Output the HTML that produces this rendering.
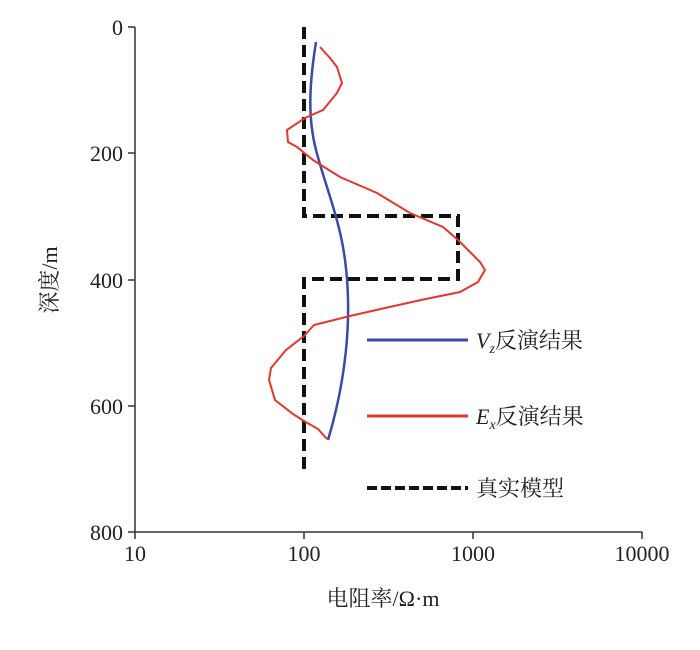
<!DOCTYPE html>
<html><head><meta charset="utf-8"><style>
body{margin:0;background:#fff}
text{font-family:"Liberation Serif","Noto Serif CJK SC",serif;fill:#222}
</style></head><body>
<svg width="700" height="645" viewBox="0 0 700 645">
<g stroke="#333" stroke-width="1.5" fill="none">
<line x1="135" y1="27" x2="135" y2="532"/>
<line x1="135" y1="532" x2="642" y2="532"/>
<line x1="128" y1="27" x2="135" y2="27"/>
<line x1="128" y1="153" x2="135" y2="153"/>
<line x1="128" y1="280" x2="135" y2="280"/>
<line x1="128" y1="406" x2="135" y2="406"/>
<line x1="128" y1="532" x2="135" y2="532"/>
<line x1="135" y1="532" x2="135" y2="539"/>
<line x1="304" y1="532" x2="304" y2="539"/>
<line x1="473" y1="532" x2="473" y2="539"/>
<line x1="642" y1="532" x2="642" y2="539"/>
</g>
<g font-size="22" text-anchor="end">
<text x="123" y="35">0</text>
<text x="123" y="161">200</text>
<text x="123" y="288">400</text>
<text x="123" y="414">600</text>
<text x="123" y="540">800</text>
</g>
<g font-size="22" text-anchor="middle">
<text x="135" y="561">10</text>
<text x="304" y="561">100</text>
<text x="473" y="561">1000</text>
<text x="642" y="561">10000</text>
<text x="383" y="606">电阻率/Ω·m</text>
</g>
<text font-size="22" text-anchor="middle" transform="translate(57,280) rotate(-90)">深度/m</text>
<polyline fill="none" stroke="#111" stroke-width="4" stroke-dasharray="12,6" points="304,27 304,216 458,216 458,279 304,279 304,469"/>
<path fill="none" stroke="#3a4aa8" stroke-width="2.5" d="M316,42 C310,80 307,115 316,150 C325,185 340,220 345,260 C349,290 349,320 346,350 C342,390 334,420 328,440"/>
<polyline fill="none" stroke="#e8352c" stroke-width="2" points="320,47 330,58 337,67 342,83 337,93 323,110 305,118 287,130 288,142 297,147 313,160 340,177 377,193 410,213 443,227 458,240 470,252 480,262 485,270 478,282 460,292 421,300 385,308 350,316 314,325 304,336 286,350 271,368 269,380 275,400 293,414 304,421 318,429 327,439"/>
<line x1="367" y1="340" x2="468" y2="340" stroke="#3a4aa8" stroke-width="3"/>
<line x1="367" y1="416" x2="468" y2="416" stroke="#e8352c" stroke-width="3"/>
<line x1="367" y1="488" x2="468" y2="488" stroke="#111" stroke-width="4" stroke-dasharray="10,4"/>
<g font-size="22">
<text x="476" y="348"><tspan font-style="italic">V</tspan><tspan font-style="italic" font-size="14" dy="5">z</tspan><tspan dy="-5">反演结果</tspan></text>
<text x="476" y="424"><tspan font-style="italic">E</tspan><tspan font-style="italic" font-size="14" dy="5">x</tspan><tspan dy="-5">反演结果</tspan></text>
<text x="476" y="496">真实模型</text>
</g>
</svg>
</body></html>
